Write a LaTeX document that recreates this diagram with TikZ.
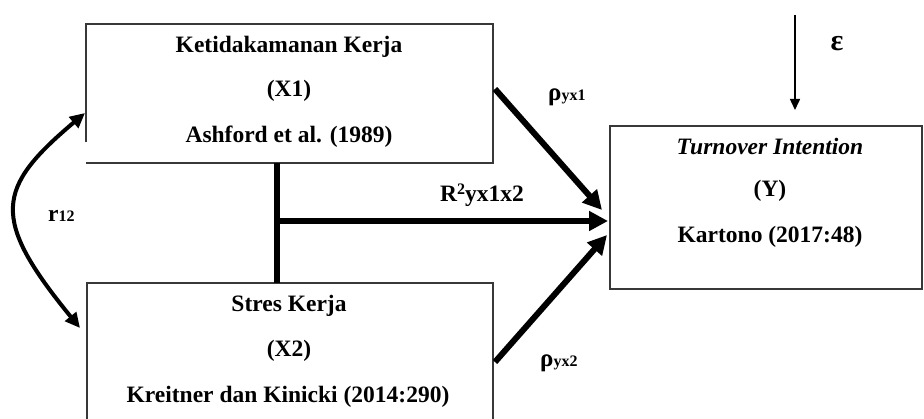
\documentclass[tikz,border=0pt]{standalone}
\usepackage{fontspec}
\setmainfont{Liberation Serif}
\usetikzlibrary{arrows.meta}
\newcommand\smallsub[1]{{\fontsize{16}{16}\selectfont #1}}
\begin{document}
\begin{tikzpicture}[x=1pt,y=-1pt,
  boxline/.style={draw=black!78, line width=1.5pt},
  area/.style={inner sep=0pt, outer sep=0pt},
  txt/.style={anchor=base, inner sep=0pt, font=\fontsize{23.5}{28}\selectfont\bfseries},
  lbl/.style={anchor=base west, inner sep=0pt, font=\fontsize{25}{28}\selectfont\bfseries},
  bigarrow/.style={line width=6pt, -{Triangle[length=19pt,width=19pt]}},
  thinarrow/.style={line width=1.5pt, -{Triangle[length=11pt,width=10pt]}},
  curvearrow/.style={line width=4pt, {Triangle[length=15pt,width=14pt]}-{Triangle[length=15pt,width=14pt]}}]
\clip (0,0) rectangle (924,419);
\fill[white] (0,0) rectangle (924,419);
% boxes
\node[area, minimum width=407pt, minimum height=139pt] (x1) at (289.5,93.5) {};
\draw[boxline] ([yshift=21pt]x1.south west) -- (x1.north west) -- (x1.north east) -- (x1.south east) -- (x1.south west);
\node[area, boxline, minimum width=406pt, minimum height=160pt] (x2) at (290,363) {};
\node[area, boxline, minimum width=312pt, minimum height=163pt] (y) at (766,207.5) {};
% texts
\node[txt] (x1a) at (289,52.7) {Ketidakamanan Kerja};
\node[txt] (x1b) at (289,97) {(X1)};
\node[txt] (x1c) at (289,143) {Ashford et al. (1989)};
\node[txt] (x2a) at (289,312) {Stres Kerja};
\node[txt] (x2b) at (289,357) {(X2)};
\node[txt] (x2c) at (288,403) {Kreitner dan Kinicki (2014:290)};
\node[txt, font=\fontsize{23.5}{28}\selectfont\bfseries\itshape] (ya) at (770,155) {Turnover Intention};
\node[txt] (yb) at (770,197) {(Y)};
\node[txt] (yc) at (770,243) {Kartono (2017:48)};
% connectors
\coordinate (jm) at (277,221);
\draw[line width=6pt] (x1.south -| jm) -- (x2.north -| jm);
\draw[bigarrow, shorten >=2pt] (jm) -- (y.west |- jm);
\coordinate (p1s) at (495,89);
\coordinate (p1e) at (602,210);
\draw[bigarrow] (p1s) -- (p1e);
\coordinate (p2s) at (495,362);
\coordinate (p2e) at (607,235);
\draw[bigarrow] (p2s) -- (p2e);
\coordinate (es) at (795,15);
\draw[thinarrow] (es) -- ([yshift=16pt]y.north -| es);
\coordinate (ra) at (85,113);
\coordinate (rb) at (80,328);
\draw[curvearrow] (ra) .. controls (-4,188) and (-10,218) .. (rb);
% labels
\node[lbl] (rho1) at (548,101) {ρ\smallsub{yx1}};
\node[lbl] (rho2) at (540,367) {ρ\smallsub{yx2}};
\node[lbl, font=\fontsize{23.5}{28}\selectfont\bfseries] (r12) at (48,222) {r\smallsub{12}};
\node[lbl, font=\fontsize{23.5}{28}\selectfont\bfseries] (rsq) at (440,202) {R\raisebox{7pt}{\smallsub{2}}yx1x2};
\node[inner sep=0pt, font=\fontsize{30}{32}\selectfont\bfseries] (eps) at (837,44) {ε};
\end{tikzpicture}
\end{document}
